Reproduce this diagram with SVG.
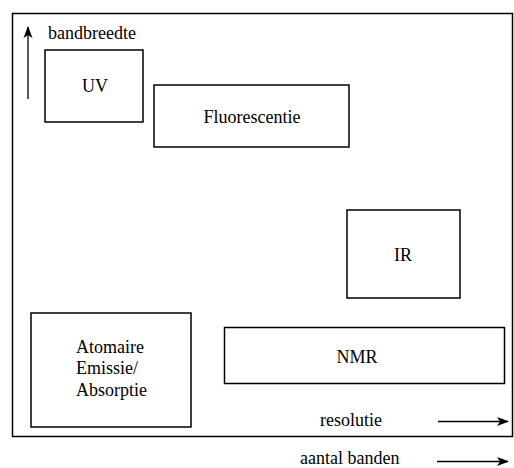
<svg xmlns="http://www.w3.org/2000/svg" width="514" height="468" viewBox="0 0 514 468">
<style>
.box{fill:#fff;stroke:#000;stroke-width:1.5}
.lbl{font-family:"Liberation Serif","Times New Roman",serif;font-size:18px;fill:#000}
.ax{stroke:#000;stroke-width:1.3;fill:none}
</style>
<defs>
<marker id="ah" viewBox="0 0 12 10" refX="11" refY="5" markerWidth="12" markerHeight="10" markerUnits="userSpaceOnUse" orient="auto">
<path d="M0,0.5 L12,5 L0,9.5 L3,5 z" fill="#000"/>
</marker>
</defs>
<rect width="514" height="468" fill="#fff"/>
<rect x="12.5" y="13.5" width="500" height="423" fill="none" stroke="#000" stroke-width="1.5"/>
<g id="uv"><rect class="box" x="45" y="50" width="98" height="72"/><text class="lbl" x="95" y="92" text-anchor="middle">UV</text></g>
<g id="fluorescentie"><rect class="box" x="154" y="85" width="195" height="62"/><text class="lbl" x="252" y="122.5" text-anchor="middle">Fluorescentie</text></g>
<g id="ir"><rect class="box" x="347" y="210" width="113" height="88"/><text class="lbl" x="403" y="261" text-anchor="middle">IR</text></g>
<g id="atomaire"><rect class="box" x="31" y="313" width="160" height="114"/><text class="lbl" x="76" y="352.5">Atomaire</text><text class="lbl" x="76" y="374">Emissie/</text><text class="lbl" x="76" y="395.5">Absorptie</text></g>
<g id="nmr"><rect class="box" x="224.5" y="327.5" width="280" height="56"/><text class="lbl" x="357" y="362.5" text-anchor="middle">NMR</text></g>
<g id="connectors">
<line class="ax" x1="28" y1="99" x2="28" y2="27" marker-end="url(#ah)"/>
<line class="ax" x1="438" y1="421.5" x2="508" y2="421.5" marker-end="url(#ah)"/>
<line class="ax" x1="437" y1="461.5" x2="508" y2="461.5" marker-end="url(#ah)"/>
</g>
<text class="lbl" x="48" y="39">bandbreedte</text>
<text class="lbl" x="320" y="426">resolutie</text>
<text class="lbl" x="300" y="464">aantal banden</text>
</svg>
